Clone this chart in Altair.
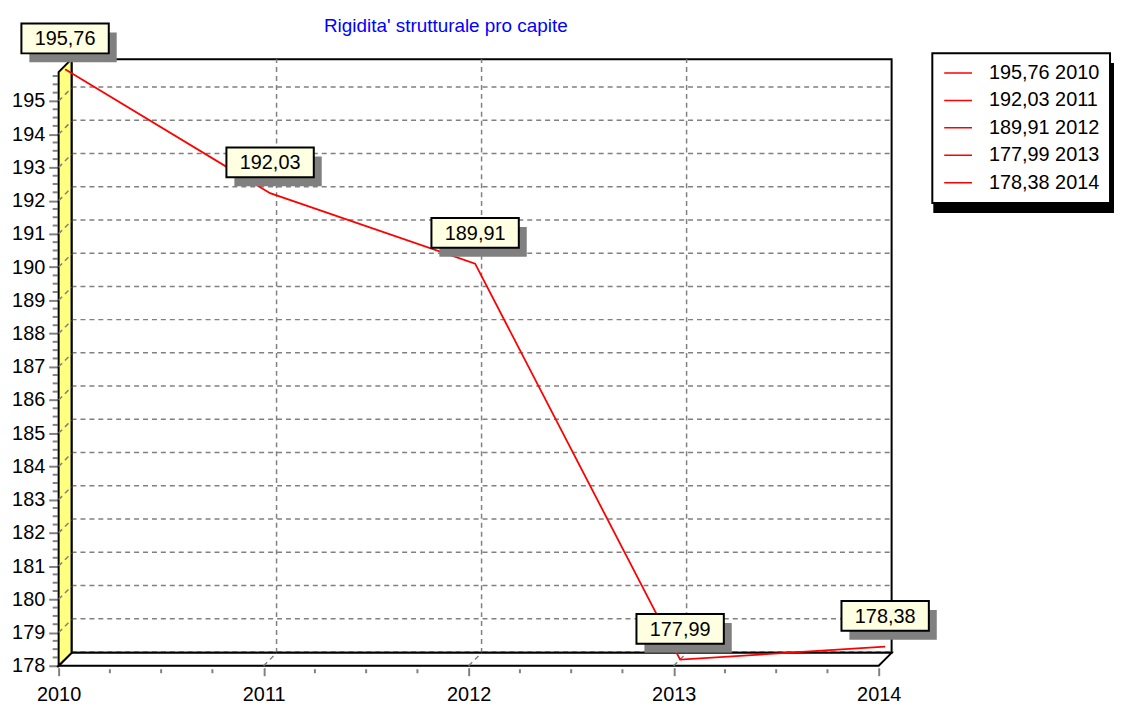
import altair as alt
import pandas as pd

# ---------------- data ----------------
years = [2010, 2011, 2012, 2013, 2014]
values = [195.76, 192.03, 189.91, 177.99, 178.38]
y_ticks = list(range(178, 196))
title_text = "Rigidita' strutturale pro capite"

labels = [f"{v:.2f}".replace(".", ",") for v in values]
legend_labels = [f"{l} {y}" for l, y in zip(labels, years)]

# ---------------- style / layout constants ----------------
FONT = "Liberation Sans"
W, H = 826, 598
X0, X1 = 2010, 2014
Y0, Y1 = 178, 195.87
DEPTH = 13  # 3D depth in px
dxd = DEPTH * (X1 - X0) / W
dyd = DEPTH * (Y1 - Y0) / H
GRID = "#808080"
BOX = "M-44,-15H44V15H-44Z"
BOX_UP = 31

xs = alt.Scale(domain=[X0, X1], nice=False, zero=False)
ys = alt.Scale(domain=[Y0, Y1], nice=False, zero=False)

x_axis = alt.Axis(
    values=years, format="d", title=None, domain=False, grid=False, tickSize=8, tickWidth=2,
    tickColor=GRID, offset=2, labelPadding=9, labelFontSize=20, labelFont=FONT, labelColor="black",
    labelFlush=False, labelOverlap=False, labelBound=False)
y_axis = alt.Axis(
    values=y_ticks, title=None, domain=False, grid=False, tickSize=10, tickWidth=2, tickColor=GRID,
    labelPadding=4, labelFontSize=20, labelFont=FONT, labelColor="black", labelFlush=False,
    labelOverlap=False, labelBound=False)

df = pd.DataFrame({"year": years, "value": values, "label": labels, "leg": legend_labels})

def X(f):
    return alt.X(f, type="quantitative", scale=xs, axis=x_axis)

def Y(f):
    return alt.Y(f, type="quantitative", scale=ys, axis=y_axis)

# back wall
back = alt.Chart(pd.DataFrame({"x": [X0 + dxd], "x2": [X1 + dxd], "y": [Y0 + dyd], "y2": [Y1 + dyd]})).mark_rect(
    fill="white", stroke="black", strokeWidth=2
).encode(x=X("x"), x2="x2", y=Y("y"), y2="y2")

# horizontal grid on back wall
hgrid = alt.Chart(pd.DataFrame({"v": [v + dyd for v in y_ticks]})).transform_calculate(
    xa=str(X0 + dxd), xb=str(X1 + dxd)
).mark_rule(color=GRID, strokeWidth=1.5, strokeDash=[5, 4], yOffset=-1).encode(x=X("xa"), x2="xb", y=Y("v"))

# vertical grid on back wall
vgrid = alt.Chart(pd.DataFrame({"v": [yr + dxd for yr in years[1:-1]]})).transform_calculate(
    ya=str(Y0 + dyd), yb=str(Y1 + dyd)
).mark_rule(color=GRID, strokeWidth=1.5, strokeDash=[5, 4]).encode(x=X("v"), y=Y("ya"), y2="yb")

# floor
floor = alt.Chart(pd.DataFrame({"y": [Y0, Y0 + dyd], "x": [X0, X0 + dxd], "x2": [X1, X1 + dxd]})).mark_area(
    orient="horizontal", fill="white", stroke="black", strokeWidth=2
).encode(y=Y("y"), x=X("x"), x2="x2")

floor_diag = alt.Chart(pd.DataFrame({"a": years[1:-1]})).transform_calculate(
    b=f"datum.a + {dxd}", ya=str(Y0), yb=str(Y0 + dyd)
).mark_rule(color=GRID, strokeWidth=1.5, strokeDash=[5, 4]).encode(x=X("a"), x2="b", y=Y("ya"), y2="yb")

# left (yellow) wall
wall = alt.Chart(pd.DataFrame({"x": [X0, X0 + dxd], "y": [Y0, Y0 + dyd], "y2": [Y1, Y1 + dyd]})).mark_area(
    orient="vertical", fill="#FFFF80", stroke="black", strokeWidth=2
).encode(x=X("x"), y=Y("y"), y2="y2")

wall_diag = alt.Chart(pd.DataFrame({"v": y_ticks[1:]})).transform_calculate(
    w=f"datum.v + {dyd}", xa=str(X0), xb=str(X0 + dxd)
).mark_rule(color=GRID, strokeWidth=1.5, strokeDash=[5, 4]).encode(x=X("xa"), x2="xb", y=Y("v"), y2="w")

# minor ticks
ymin = [v + q for v in y_ticks for q in (0.25, 0.5, 0.75) if v + q <= Y1]
xmin = [yr + q for yr in years[:-1] for q in (0.25, 0.5, 0.75)]
yminor = alt.Chart(pd.DataFrame({"v": ymin})).transform_calculate(xa=str(X0)).mark_tick(
    orient="horizontal", size=5, thickness=2, color=GRID, xOffset=-3.5, opacity=1
).encode(x=X("xa"), y=Y("v"))
xminor = alt.Chart(pd.DataFrame({"v": xmin})).transform_calculate(ya=str(Y0)).mark_tick(
    orient="vertical", size=4, thickness=2, color=GRID, yOffset=5.5, opacity=1
).encode(x=X("v"), y=Y("ya"))

# data line (mid depth)
line = alt.Chart(df).mark_line(color="red", strokeWidth=1.8, xOffset=DEPTH / 2, yOffset=-DEPTH / 2).encode(
    x=X("year"), y=Y("value")
)

# legend layer (single-point groups draw nothing)
leg = alt.Chart(df).mark_line(strokeWidth=1.5).encode(
    x=X("year"), y=Y("value"),
    color=alt.Color("leg:N", scale=alt.Scale(domain=legend_labels, range=["red"] * 5),
                    legend=alt.Legend(
                        orient="none", legendX=880, legendY=-19, title=None, fillColor="white",
                        strokeColor="black", padding=10, labelFontSize=20, labelFont=FONT,
                        labelColor="black", symbolType="stroke", symbolSize=784, symbolStrokeWidth=1.5,
                        clipHeight=20, rowPadding=7.6, labelOffset=16, symbolOffset=1, columns=1)),
)

legend_shadow = alt.Chart(pd.DataFrame({"a": [0]})).mark_rect(color="black").encode(
    x=alt.value(881), x2=alt.value(1069), y=alt.value(-9), y2=alt.value(142)
)

# value boxes
shadow = alt.Chart(df).mark_point(
    shape=BOX, size=4, filled=True, fill="#808080", strokeWidth=0, opacity=1,
    xOffset=DEPTH / 2 + 8, yOffset=-DEPTH / 2 - BOX_UP + 9
).encode(x=X("year"), y=Y("value"))
box = alt.Chart(df).mark_point(
    shape=BOX, size=4, filled=True, fill="#FFFFE1", stroke="black", strokeWidth=2, opacity=1,
    xOffset=DEPTH / 2, yOffset=-DEPTH / 2 - BOX_UP
).encode(x=X("year"), y=Y("value"))
text = alt.Chart(df).mark_text(
    font=FONT, fontSize=20, color="black", align="center", baseline="middle",
    xOffset=DEPTH / 2, yOffset=-DEPTH / 2 - BOX_UP + 1
).encode(x=X("year"), y=Y("value"), text="label:N")

title = alt.Chart(pd.DataFrame({"t": [title_text]})).mark_text(
    font=FONT, fontSize=19, color="#0000FF", align="center", baseline="alphabetic"
).encode(x=alt.value(390), y=alt.value(-40), text="t:N")

chart = alt.layer(
    back, hgrid, vgrid, yminor, xminor, floor, floor_diag, wall, wall_diag,
    legend_shadow, leg, line, shadow, box, text, title
).properties(
    width=W, height=H,
    autosize=alt.AutoSizeParams(type="none"),
    padding={"left": 51, "top": 62, "right": 237, "bottom": 36},
).configure_view(stroke=None).configure(background="white").configure_legend(strokeWidth=2)

chart.save("out.html", embed_options={"renderer": "svg", "actions": False})
